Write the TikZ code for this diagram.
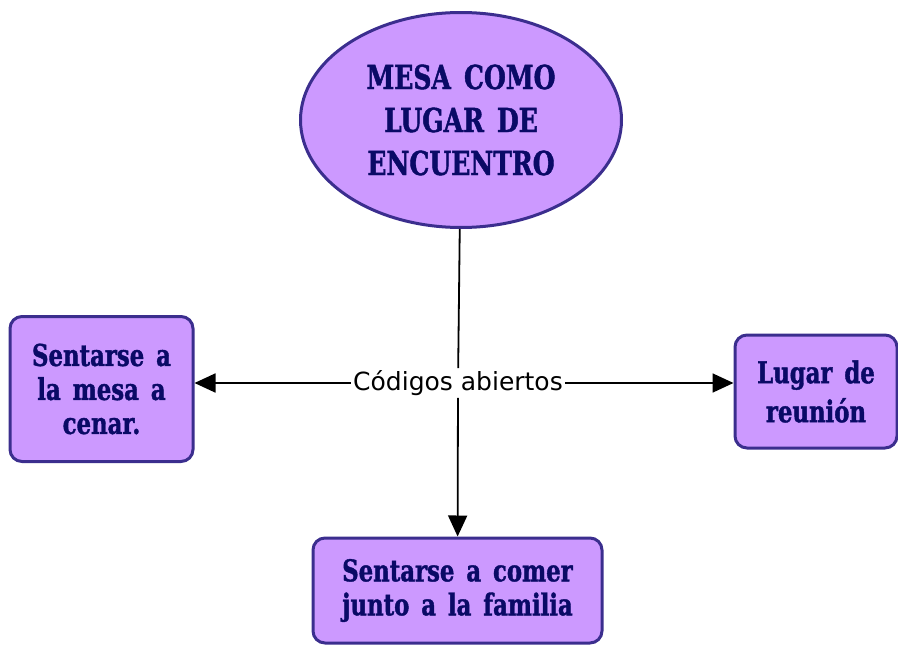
\documentclass[tikz,border=0pt]{standalone}
\usepackage{fontspec}
\usetikzlibrary{shapes.geometric,arrows.meta}
\newfontfamily\slabfont[FakeStretch=0.76,WordSpace=1.5,BoldFeatures={FakeBold=1.3}]{DejaVu Serif}
\newfontfamily\labelfont{DejaVu Sans}
\definecolor{boxfill}{HTML}{CC99FF}
\definecolor{boxdraw}{HTML}{3B2E8E}
\definecolor{boxtext}{HTML}{0A0A66}
\tikzset{
  concept/.style={draw=boxdraw, line width=3pt, fill=boxfill, text=boxtext,
    align=center, inner sep=0pt},
  roundbox/.style={concept, rounded corners=12pt},
  linkline/.style={line width=1.8pt, draw=black},
  linkarrow/.style={linkline, -{Triangle[length=21pt,width=19pt]}},
}
\begin{document}
\begin{tikzpicture}[x=1pt,y=-1pt]
\useasboundingbox (0,0) rectangle (898,645);
\node[concept, ellipse, minimum width=321pt, minimum height=215pt,
  font=\slabfont\bfseries\fontsize{33}{43}\selectfont] (top) at (461,120)
  {MESA COMO\\LUGAR DE\\ENCUENTRO};
\node[roundbox, minimum width=183pt, minimum height=145pt,
  font=\slabfont\bfseries\fontsize{30}{34}\selectfont] (left) at (101.5,389)
  {Sentarse a\\la mesa a\\cenar.};
\node[roundbox, minimum width=162pt, minimum height=113pt,
  font=\slabfont\bfseries\fontsize{30}{39}\selectfont] (right) at (816,391.5)
  {Lugar de\\reunión};
\node[roundbox, minimum width=289pt, minimum height=105pt,
  font=\slabfont\bfseries\fontsize{30}{34}\selectfont] (bottom) at (457.5,590.5)
  {Sentarse a comer\\junto a la familia};
\node[font=\labelfont\fontsize{25}{29}\selectfont, inner sep=2pt] (lbl) at (458,383)
  {Códigos abiertos};
\draw[linkline] (top) -- (lbl);
\draw[linkarrow] (lbl.west) -- (lbl.west -| left.east);
\draw[linkarrow] (lbl.east) -- (lbl.east -| right.west);
\draw[linkarrow] (lbl) -- (bottom);
\end{tikzpicture}
\end{document}
